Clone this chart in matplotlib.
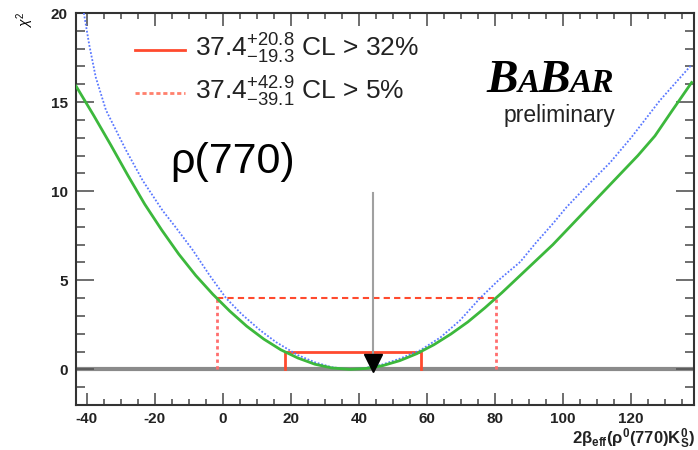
import matplotlib
matplotlib.use('Agg')
import matplotlib.pyplot as plt
from matplotlib.ticker import MultipleLocator

plt.rcParams['font.family'] = ['Liberation Sans', 'DejaVu Sans']
plt.rcParams['mathtext.fontset'] = 'custom'
plt.rcParams['mathtext.rm'] = 'Liberation Sans'
plt.rcParams['mathtext.it'] = 'Liberation Sans:italic'
plt.rcParams['mathtext.bf'] = 'Liberation Sans:bold'
plt.rcParams['axes.unicode_minus'] = False

# chi2 scan, green solid
green_x = [-43.2, -38, -33, -28, -23, -18, -13, -8, -3, 2, 7, 12, 17, 22, 27, 32, 37.4,
           42, 47, 52, 57, 62, 67, 72, 77, 82, 87, 92, 97, 102, 107, 112, 117, 122, 127, 132, 137.8]
green_y = [15.9, 14.25, 12.6, 10.9, 9.27, 7.82, 6.47, 5.27, 4.22, 3.27, 2.42, 1.7, 1.1, 0.64, 0.29, 0.08, 0.0,
           0.05, 0.21, 0.49, 0.88, 1.38, 1.98, 2.66, 3.45, 4.3, 5.2, 6.1, 7.0, 8.0, 9.0, 10.0, 11.0, 12.0, 13.1, 14.5, 16.1]

# blue dotted scan
blue_x = [-40.9, -39.3, -37.4, -34.4, -28.5, -23.6, -17.7, -14, -8.9, -4, 0.9, 5.5, 10.9, 15.6, 22, 27, 32, 37.4,
          42, 47, 52, 58, 64, 69.7, 75.6, 81, 87.4, 92, 97.1, 101, 106, 113.8, 120, 128.5, 137.8]
blue_y = [20.0, 18.2, 16.4, 14.55, 12.3, 10.6, 8.9, 8.0, 6.7, 5.3, 4.0, 3.1, 2.2, 1.53, 0.8, 0.4, 0.12, 0.0,
          0.08, 0.28, 0.6, 1.07, 1.8, 2.75, 4.0, 5.0, 6.03, 7.1, 8.2, 9.1, 10.1, 11.6, 13.0, 15.1, 17.1]

best = 37.4
cl32_lo, cl32_hi = 18.1, 58.2
cl5_lo, cl5_hi = -1.7, 80.3
arrow_x, arrow_top = 44.1, 9.9

fig = plt.figure(figsize=(6.98, 4.5), dpi=100)
ax = fig.add_axes([0.1089, 0.1, 0.8854, 0.8711])

ax.axhline(0, color='#8a8a8a', lw=3, zorder=1)

ax.plot(blue_x, blue_y, color='#5a78ff', lw=1.3, ls=(0, (1, 1)), zorder=3)
ax.plot(green_x, green_y, color='#3cb83c', lw=2, zorder=4)

red = '#ff4a2e'
ax.plot([cl32_lo, cl32_lo, cl32_hi, cl32_hi], [0, 1, 1, 0], color=red, lw=2, zorder=2)
ax.plot([cl5_lo, cl5_hi], [4, 4], color=red, lw=1.5, ls=(0, (3, 2)), zorder=2)
ax.plot([cl5_lo, cl5_lo], [0, 4], color='#ff6e6e', lw=2, ls=(0, (1.2, 1.2)), zorder=2)
ax.plot([cl5_hi, cl5_hi], [0, 4], color='#ff6e6e', lw=2, ls=(0, (1.2, 1.2)), zorder=2)

ax.plot([arrow_x, arrow_x], [0.5, arrow_top], color='#a0a0a0', lw=1.5, zorder=5)
ax.plot([arrow_x], [0.38], marker='v', color='black', markersize=13, zorder=6)

ax.set_xlim(-43.2, 138.5)
ax.set_ylim(-2, 20)
ax.xaxis.set_major_locator(MultipleLocator(20))
ax.xaxis.set_minor_locator(MultipleLocator(5))
ax.yaxis.set_major_locator(MultipleLocator(5))
ax.yaxis.set_minor_locator(MultipleLocator(1))
ax.tick_params(which='both', direction='in', top=True, right=True, colors='#555555',
               labelcolor='#222222', labelsize=11, width=1.2)
ax.tick_params(axis='x', which='major', length=9, pad=5)
ax.tick_params(axis='x', which='minor', length=4.5)
ax.tick_params(axis='y', which='major', length=13, pad=6)
ax.tick_params(axis='y', which='minor', length=6.5)
for lab in ax.get_xticklabels() + ax.get_yticklabels():
    lab.set_fontweight('bold')
for sp in ax.spines.values():
    sp.set_color('#333333')
    sp.set_linewidth(1.5)

# legend drawn by hand
ax.plot([0.0955, 0.176], [0.906, 0.906], color=red, lw=2, transform=ax.transAxes)
ax.plot([0.0955, 0.176], [0.796, 0.796], color=red, lw=2, ls=(0, (1.5, 1)), alpha=0.7,
        transform=ax.transAxes)
ax.text(0.193, 0.888, r'$37.4^{+20.8}_{-19.3}$ CL > 32%', transform=ax.transAxes,
        fontsize=19, va='baseline', color='#222222')
ax.text(0.193, 0.778, r'$37.4^{+42.9}_{-39.1}$ CL > 5%', transform=ax.transAxes,
        fontsize=19, va='baseline', color='#222222')

ax.text(0.152, 0.592, 'ρ(770)', transform=ax.transAxes, fontsize=31, va='baseline')

fig.text(0.036, 0.955, r'$\chi^{2}$', rotation=90, fontsize=10, ha='center', va='center')
fig.text(0.996, 0.013, r'$\mathbf{2\beta_{eff}(\rho^{0}(770)K_{S}^{0})}$', fontsize=12,
         ha='right', va='baseline', color='#222222')

# BaBar logo
renderer = fig.canvas.get_renderer()
x = 0.697
for s, size in [('B', 34), ('A', 24), ('B', 34), ('AR', 24)]:
    t = fig.text(x, 0.795, s, fontsize=size, family='Liberation Serif', fontweight='bold',
                 style='italic', va='baseline')
    x = t.get_window_extent(renderer).x1 / fig.bbox.width - 0.001
fig.text(0.881, 0.728, 'preliminary', fontsize=16.5, ha='right', va='baseline', color='#222222')

fig.savefig('out.png', dpi=100)
